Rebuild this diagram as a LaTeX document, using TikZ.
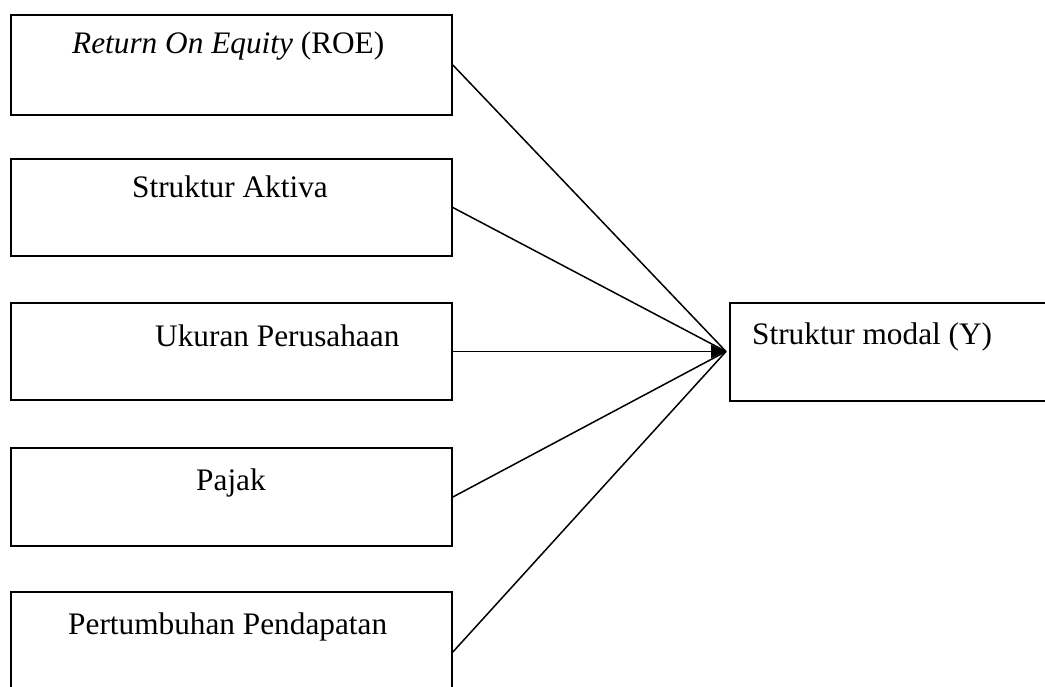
\documentclass[tikz,border=0pt]{standalone}
\usepackage{fontspec}
\setmainfont{Liberation Serif}
\usetikzlibrary{arrows.meta}
\tikzset{
  varbox/.style={draw, line width=1.7pt, rectangle, inner sep=0pt},
  lbl/.style={anchor=base west, inner sep=0pt, font=\fontsize{31.3}{37}\selectfont},
  conn/.style={line width=1.5pt},
}
\begin{document}
\begin{tikzpicture}[x=1pt,y=-1pt]
\useasboundingbox (0,0) rectangle (1045,686);
\clip (0,0) rectangle (1045,686);
\fill[white] (0,0) rectangle (1045,686);
% left boxes
\node[varbox, minimum width=441pt, minimum height=100pt] (roe) at (231.5,65) {};
\node[varbox, minimum width=441pt, minimum height=97pt] (sa) at (231.5,207.5) {};
\node[varbox, minimum width=441pt, minimum height=97pt] (up) at (231.5,351.5) {};
\node[varbox, minimum width=441pt, minimum height=98pt] (pj) at (231.5,497) {};
\node[varbox, minimum width=441pt, minimum height=120pt] (pp) at (231.5,652) {};
% right box
\node[varbox, minimum width=340pt, minimum height=98pt] (sm) at (900,352) {};
% texts
\node[lbl] (troe) at (72,53) {\textit{Return On Equity} (ROE)};
\node[lbl] (tsa) at (132,197) {Struktur Aktiva};
\node[lbl] (tup) at (155,346.5) {Ukuran Perusahaan};
\node[lbl] (tpj) at (196,490.5) {Pajak};
\node[lbl] (tpp) at (68,634) {Pertumbuhan Pendapatan};
\node[lbl] (tsm) at (752,344) {Struktur modal (Y)};
% connectors
\coordinate (c) at (726,351.5);
\draw[conn] (roe.east) -- (c);
\draw[conn] (sa.east) -- (c);
\draw[conn, -{Triangle[length=15pt,width=13pt]}] (up.east) -- (c);
\draw[conn] (pj.east) -- (c);
\draw[conn] (pp.east) -- (c);
\end{tikzpicture}
\end{document}
